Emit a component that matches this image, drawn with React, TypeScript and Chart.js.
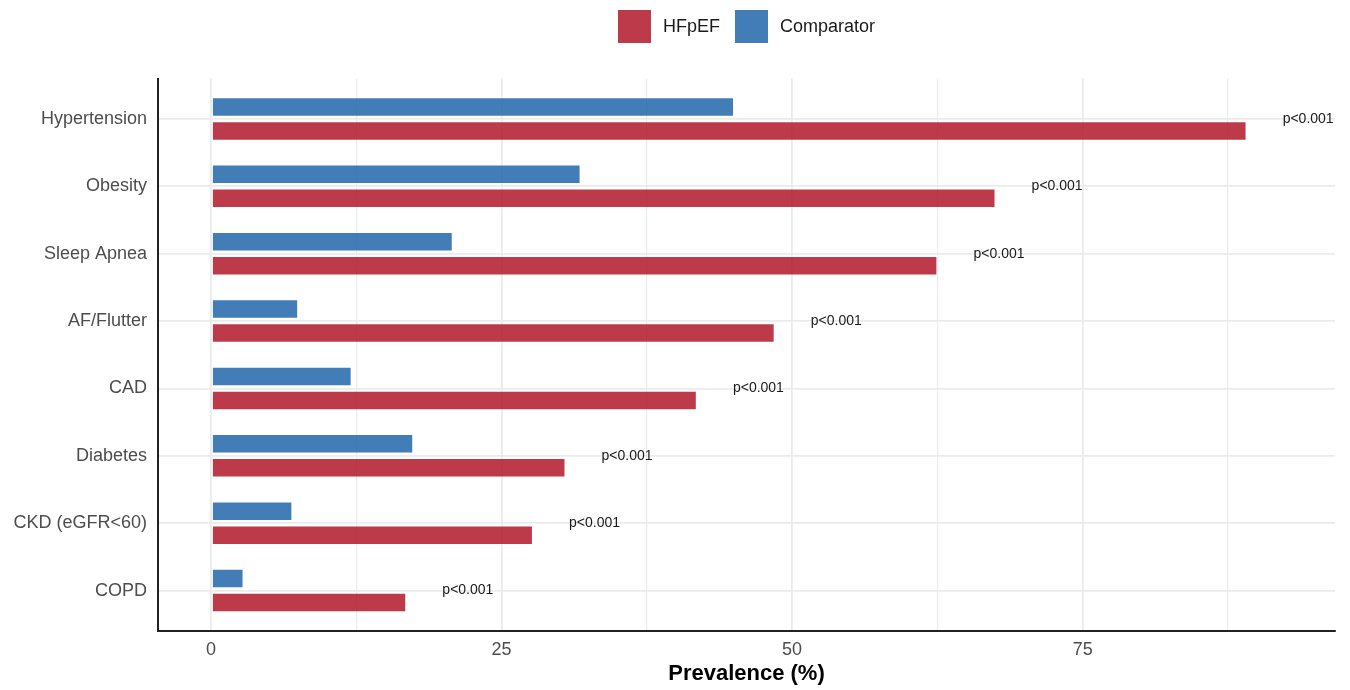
import React, { useEffect, useRef } from 'react';
import { Chart, registerables } from 'chart.js';

Chart.register(...registerables);

const categories = [
  'Hypertension',
  'Obesity',
  'Sleep Apnea',
  'AF/Flutter',
  'CAD',
  'Diabetes',
  'CKD (eGFR<60)',
  'COPD',
];
const comparatorValues = [45.0, 31.8, 20.8, 7.5, 12.1, 17.4, 7.0, 2.8];
const hfpefValues = [89.1, 67.5, 62.5, 48.5, 41.8, 30.5, 27.7, 16.8];
const pLabels = ['p<0.001', 'p<0.001', 'p<0.001', 'p<0.001', 'p<0.001', 'p<0.001', 'p<0.001', 'p<0.001'];
const majorTicks = [0, 25, 50, 75];

const FONT = '"Liberation Sans", Arial, Helvetica, sans-serif';
const RED = 'rgba(178,24,43,0.85)';
const BLUE = 'rgba(33,102,172,0.85)';

const pLabelPlugin = {
  id: 'pLabels',
  afterDatasetsDraw(chart: any) {
    const { ctx, scales } = chart;
    const xs = scales.x;
    const ys = scales.y;
    ctx.save();
    ctx.font = `14px ${FONT}`;
    ctx.fillStyle = '#1a1a1a';
    ctx.textAlign = 'center';
    ctx.textBaseline = 'middle';
    pLabels.forEach((t, i) => {
      const x = xs.getPixelForValue(hfpefValues[i] + 5.3);
      const y = ys.getPixelForValue(i);
      ctx.fillText(t, x, y);
    });
    ctx.restore();
  },
};

const legendPlugin = {
  id: 'centeredLegend',
  afterDraw(chart: any) {
    const { ctx, chartArea } = chart;
    const items = chart.data.datasets
      .map((d: any) => ({ text: d.label, color: d.backgroundColor }))
      .reverse();
    ctx.save();
    ctx.font = `18px ${FONT}`;
    const box = 33;
    const gapText = 12;
    const gapItem = 15;
    const widths = items.map((it: any) => box + gapText + ctx.measureText(it.text).width);
    const total = widths.reduce((a: number, b: number) => a + b, 0) + gapItem * (items.length - 1);
    let x = (chartArea.left + chartArea.right) / 2 - total / 2;
    const top = 10;
    items.forEach((it: any, i: number) => {
      ctx.fillStyle = it.color;
      ctx.fillRect(x, top, box, box);
      ctx.fillStyle = '#1a1a1a';
      ctx.textAlign = 'left';
      ctx.textBaseline = 'middle';
      ctx.fillText(it.text, x + box + gapText, top + box / 2 + 0.5);
      x += widths[i] + gapItem;
    });
    ctx.restore();
  },
};

export default function App() {
  const canvasRef = useRef<HTMLCanvasElement | null>(null);

  useEffect(() => {
    if (!canvasRef.current) return;
    Chart.defaults.font.family = FONT;
    const chart = new Chart(canvasRef.current, {
      type: 'bar',
      data: {
        datasets: [
          {
            label: 'Comparator',
            data: comparatorValues.map((v, i) => ({ x: v, y: i })),
            backgroundColor: BLUE,
            borderColor: 'rgba(255,255,255,0.45)',
            borderWidth: 1,
            borderSkipped: false,
          },
          {
            label: 'HFpEF',
            data: hfpefValues.map((v, i) => ({ x: v, y: i })),
            backgroundColor: RED,
            borderColor: 'rgba(255,255,255,0.45)',
            borderWidth: 1,
            borderSkipped: false,
          },
        ],
      },
      options: {
        indexAxis: 'y',
        responsive: false,
        maintainAspectRatio: false,
        devicePixelRatio: 1,
        animation: false,
        categoryPercentage: 0.713,
        barPercentage: 0.81,
        layout: { padding: { top: 78.5, right: 15, left: 0, bottom: 0 } },
        plugins: {
          legend: { display: false },
          tooltip: { enabled: false },
        },
        scales: {
          x: {
            type: 'linear',
            position: 'bottom',
            min: -4.56,
            max: 96.71,
            offset: false,
            ticks: {
              stepSize: 12.5,
              includeBounds: false,
              autoSkip: false,
              maxRotation: 0,
              padding: 8,
              color: '#4d4d4d',
              font: { size: 18, family: FONT },
              callback: (v: any) => (majorTicks.includes(Number(v)) ? String(v) : ''),
            },
            grid: {
              color: '#ebebeb',
              drawTicks: false,
              lineWidth: (c: any) => (c.tick && majorTicks.includes(c.tick.value) ? 1.8 : 1.2),
            },
            border: { display: true, color: '#222', width: 2 },
            title: {
              display: true,
              text: 'Prevalence (%)',
              color: '#000',
              font: { size: 22, weight: 'bold', family: FONT },
              padding: { top: 0, bottom: 3 },
            },
            afterFit: (s: any) => {
              s.height = 59;
            },
          },
          y: {
            type: 'linear',
            min: -0.6,
            max: 7.6,
            reverse: true,
            offset: false,
            ticks: {
              stepSize: 1,
              includeBounds: false,
              autoSkip: false,
              padding: 11,
              color: '#4d4d4d',
              font: { size: 18, family: FONT },
              callback: (v: any) => categories[Number(v)] ?? '',
            },
            grid: {
              color: '#ebebeb',
              drawTicks: false,
              offset: false,
              lineWidth: 1.8,
            },
            border: { display: true, color: '#222', width: 2 },
            afterFit: (s: any) => {
              s.width = 158;
            },
          },
        },
      } as any,
      plugins: [pLabelPlugin, legendPlugin],
    });
    return () => chart.destroy();
  }, []);

  return (
    <div style={{ position: 'fixed', left: 0, top: 0, width: 1350, height: 690, background: '#fff' }}>
      <canvas ref={canvasRef} width={1350} height={690} style={{ width: 1350, height: 690 }} />
    </div>
  );
}
